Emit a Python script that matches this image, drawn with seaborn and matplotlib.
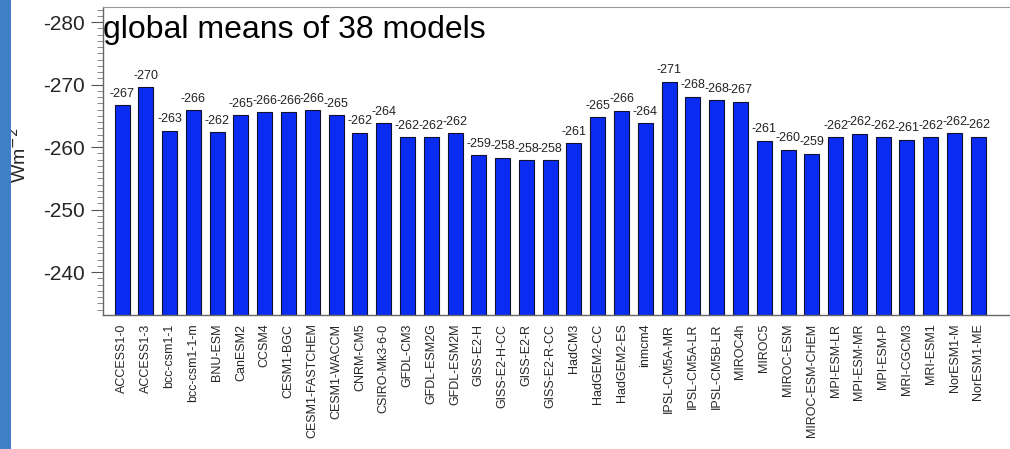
import matplotlib
matplotlib.use("Agg")
import matplotlib.pyplot as plt
from matplotlib.patches import Rectangle
from matplotlib.ticker import MultipleLocator
import pandas as pd
import seaborn as sns

models = [
    "ACCESS1-0", "ACCESS1-3", "bcc-csm1-1", "bcc-csm1-1-m", "BNU-ESM", "CanESM2",
    "CCSM4", "CESM1-BGC", "CESM1-FASTCHEM", "CESM1-WACCM", "CNRM-CM5",
    "CSIRO-Mk3-6-0", "GFDL-CM3", "GFDL-ESM2G", "GFDL-ESM2M", "GISS-E2-H",
    "GISS-E2-H-CC", "GISS-E2-R", "GISS-E2-R-CC", "HadCM3", "HadGEM2-CC",
    "HadGEM2-ES", "inmcm4", "IPSL-CM5A-MR", "IPSL-CM5A-LR", "IPSL-CM5B-LR",
    "MIROC4h", "MIROC5", "MIROC-ESM", "MIROC-ESM-CHEM", "MPI-ESM-LR",
    "MPI-ESM-MR", "MPI-ESM-P", "MRI-CGCM3", "MRI-ESM1", "NorESM1-M", "NorESM1-ME",
]
# net longwave (Wm-2)
flux = [
    -266.7, -269.6, -262.6, -265.9, -262.4, -265.1,
    -265.6, -265.6, -265.9, -265.1, -262.3,
    -263.8, -261.6, -261.6, -262.2, -258.7,
    -258.3, -257.9, -257.9, -260.6, -264.8,
    -265.8, -263.8, -270.5, -268.1, -267.5,
    -267.3, -261.0, -259.6, -258.9, -261.6,
    -262.1, -261.6, -261.2, -261.6, -262.2, -261.7,
]
labels = [
    "-267", "-270", "-263", "-266", "-262", "-265",
    "-266", "-266", "-266", "-265", "-262",
    "-264", "-262", "-262", "-262", "-259",
    "-258", "-258", "-258", "-261", "-265",
    "-266", "-264", "-271", "-268", "-268",
    "-267", "-261", "-260", "-259", "-262",
    "-262", "-262", "-261", "-262", "-262", "-262",
]

df = pd.DataFrame({"model": models, "flux": flux})

sns.set_style("ticks")
plt.rcParams["font.family"] = ["Liberation Sans", "DejaVu Sans"]
plt.rcParams["axes.unicode_minus"] = False

fig = plt.figure(figsize=(10.10, 4.49), dpi=100, facecolor="white")
ax = fig.add_axes([0.102, 0.298, 0.909, 0.686])

sns.barplot(data=df, x="model", y="flux", color="#0a2cf2", saturation=1,
            width=0.63, edgecolor="#101030", linewidth=0.8, ax=ax)

ax.set_ylim(-233.1, -282.4)
ax.set_xlim(-0.8, 37.8)

for i, (v, t) in enumerate(zip(flux, labels)):
    ax.annotate(t, (i, v), xytext=(0, 4), textcoords="offset points",
                ha="center", va="bottom", fontsize=9, color="#222222")

ax.text(0.0, 0.975, "global means of 38 models", transform=ax.transAxes,
        ha="left", va="top", fontsize=23, color="black")

ax.yaxis.set_major_locator(MultipleLocator(10))
ax.yaxis.set_minor_locator(MultipleLocator(1))
ax.tick_params(axis="y", which="major", length=9, width=0.8, labelsize=15,
               color="#555555", pad=4)
ax.tick_params(axis="y", which="minor", length=4, width=0.6, color="#777777")
ax.tick_params(axis="x", length=0, labelsize=9, rotation=90, pad=6)
ax.set_xlabel("")
ax.set_ylabel("Wm$^{-2}$", fontsize=14)
ax.yaxis.set_label_coords(-0.08, 0.52)

for side in ["left", "bottom"]:
    ax.spines[side].set_color("#666666")
    ax.spines[side].set_linewidth(1.0)
ax.spines["top"].set_color("#999999")
ax.spines["right"].set_visible(False)

# slide background edge on the far left
fig.patches.append(Rectangle((0, 0), 0.011, 1, transform=fig.transFigure,
                             facecolor="#3f7fc4", edgecolor="none"))

fig.savefig("out.png", dpi=100, facecolor=fig.get_facecolor())
